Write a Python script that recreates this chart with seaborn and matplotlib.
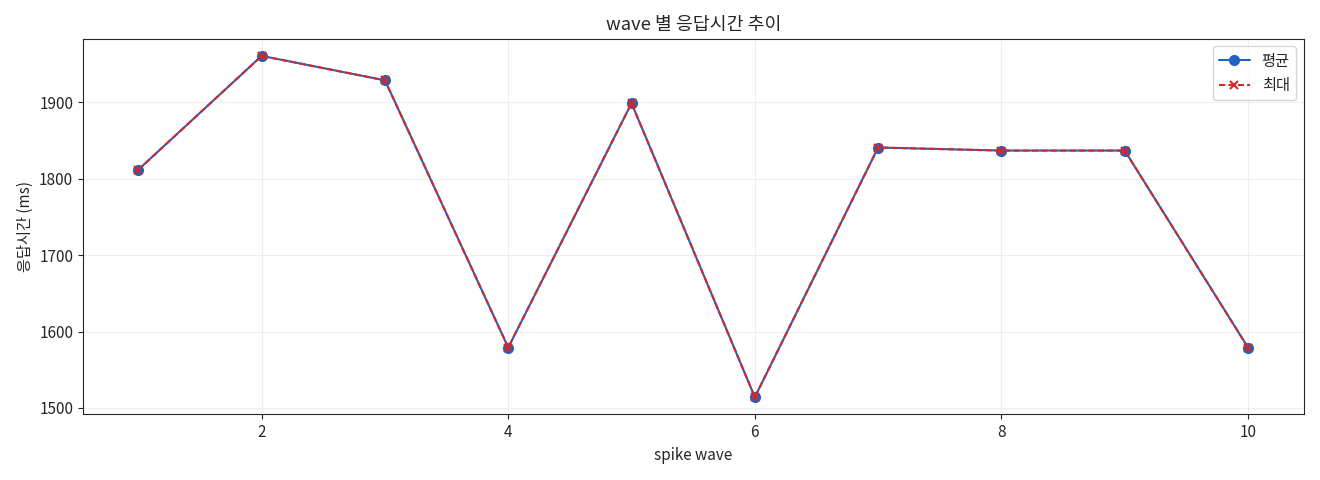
import matplotlib
matplotlib.use("Agg")
import matplotlib.pyplot as plt
import pandas as pd
import seaborn as sns

waves = [1, 2, 3, 4, 5, 6, 7, 8, 9, 10]
avg_ms = [1812, 1961, 1929, 1579, 1899, 1514, 1841, 1837, 1837, 1579]
max_ms = [1812, 1961, 1929, 1579, 1899, 1514, 1841, 1837, 1837, 1579]

sns.set_style("ticks")
plt.rcParams["font.family"] = ["Noto Sans CJK KR", "DejaVu Sans"]
plt.rcParams["font.size"] = 11

df = pd.DataFrame({"wave": waves, "avg": avg_ms, "max": max_ms})

fig, ax = plt.subplots(figsize=(13.2, 4.8), dpi=100)
sns.lineplot(data=df, x="wave", y="avg", ax=ax, color="#1f63c0", marker="o",
             markersize=7, markeredgecolor="#1f63c0", markeredgewidth=1,
             linewidth=1.5, label="평균")
sns.lineplot(data=df, x="wave", y="max", ax=ax, color="#d62728", marker="x",
             markersize=6, markeredgecolor="#d62728", markeredgewidth=1.5,
             linewidth=1.5, dashes=(3, 1.5), label="최대")

ax.set_title("wave 별 응답시간 추이")
ax.set_xlabel("spike wave")
ax.set_ylabel("응답시간 (ms)")
ax.grid(True, alpha=0.3)
ax.legend(loc="upper right")
plt.tight_layout()
plt.savefig("out.png")
